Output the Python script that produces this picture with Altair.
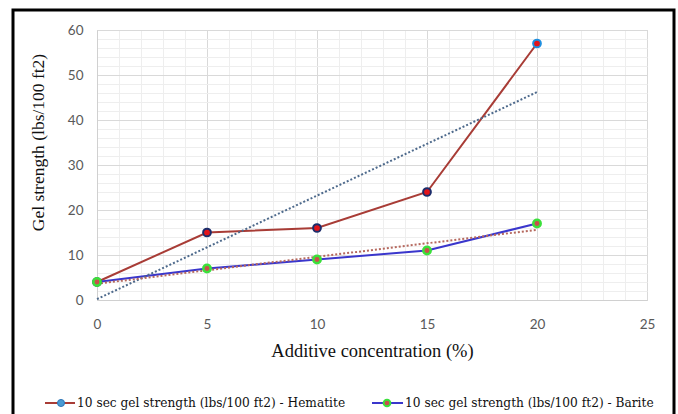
import altair as alt
import pandas as pd

# Gel strength readings vs additive concentration
concentration = [0, 5, 10, 15, 20]
hematite_gel = [4, 15, 16, 24, 57]
barite_gel = [4, 7, 9, 11, 17]
series_names = [
    "10 sec gel strength (lbs/100 ft2) - Hematite",
    "10 sec gel strength (lbs/100 ft2) - Barite",
]
x_ticks = list(range(0, 26))        # major every 5, minor every 1
y_ticks = list(range(0, 61, 2))     # major every 10, minor every 2

df = pd.DataFrame({
    "conc": concentration * 2,
    "gel": hematite_gel + barite_gel,
    "series": [series_names[0]] * len(concentration) + [series_names[1]] * len(concentration),
})

LABEL_FONT = "Lato"
SERIF = "Liberation Serif"
LEGEND_FONT = "DejaVu Serif"

x_enc = alt.X(
    "conc:Q",
    scale=alt.Scale(domain=[0, 25], nice=False),
    axis=alt.Axis(
        values=x_ticks,
        labelExpr="datum.value % 5 === 0 ? datum.label : ''",
        gridColor={"condition": {"test": "datum.value % 5 === 0", "value": "#d9d9d9"}, "value": "#eeeeee"},
        grid=True,
        ticks=False,
        domainColor="#d0d0d0",
        labelFont=LABEL_FONT, labelFontSize=13.5, labelColor="#595959",
        labelPadding=17, labelFlush=False,
        title="Additive concentration (%)",
        titleFont=SERIF, titleFontSize=18.5, titleFontWeight="normal", titleColor="#111111",
        titleY=50, titleBaseline="middle",
    ),
)
y_enc = alt.Y(
    "gel:Q",
    scale=alt.Scale(domain=[0, 60], nice=False),
    axis=alt.Axis(
        values=y_ticks,
        labelExpr="datum.value % 10 === 0 ? datum.label : ''",
        gridColor={"condition": {"test": "datum.value % 10 === 0", "value": "#d9d9d9"}, "value": "#eeeeee"},
        grid=True,
        ticks=False,
        domainColor="#d0d0d0",
        labelFont=LABEL_FONT, labelFontSize=13.5, labelColor="#595959",
        labelPadding=14,
        title="Gel strength (lbs/100 ft2)",
        titleFont=SERIF, titleFontSize=17.5, titleFontWeight="normal", titleColor="#111111",
        titleX=-59, titleY=112, titleAngle=270, titleBaseline="middle", titleAlign="center",
    ),
)

base = alt.Chart(df).encode(x=x_enc, y=y_enc)
hem = base.transform_filter(alt.datum.series == series_names[0])
bar = base.transform_filter(alt.datum.series == series_names[1])

hem_line = hem.mark_line(color="#a83c36", strokeWidth=2)
bar_line = bar.mark_line(color="#3a36cc", strokeWidth=2)

hem_trend = hem.transform_regression("conc", "gel").mark_line(
    color="#4e6a8c", strokeWidth=2, strokeDash=[2, 2])
bar_trend = bar.transform_regression("conc", "gel").mark_line(
    color="#b5685e", strokeWidth=2, strokeDash=[2, 2])

hem_pts = hem.mark_circle(size=60, fill="#e3141a", strokeWidth=2, opacity=1).encode(
    stroke=alt.condition(alt.datum.conc == 20, alt.value("#1e8fe0"), alt.value("#1c2d6b"))
)
bar_pts = bar.mark_circle(size=55, fill="#c8504c", stroke="#3be03b", strokeWidth=2.5, opacity=1)

# Legend drawn below the plot
one = alt.Data(values=[{"k": 0}])
leg_y = 373
leg_hem = alt.layer(
    alt.Chart(one).mark_rule(color="#a83c36", strokeWidth=2).encode(
        x=alt.value(-52), x2=alt.value(-22), y=alt.value(leg_y)),
    alt.Chart(one).mark_circle(size=50, fill="#4a9bd4", stroke="#2e75b6", strokeWidth=1, opacity=1).encode(
        x=alt.value(-36), y=alt.value(leg_y)),
    alt.Chart(one).mark_text(align="left", baseline="middle", font=LEGEND_FONT, fontSize=12.2, color="#111111").encode(
        x=alt.value(-20), y=alt.value(leg_y), text=alt.value(series_names[0])),
)
leg_bar = alt.layer(
    alt.Chart(one).mark_rule(color="#3a36cc", strokeWidth=2).encode(
        x=alt.value(275), x2=alt.value(306), y=alt.value(leg_y)),
    alt.Chart(one).mark_circle(size=45, fill="#c8504c", stroke="#3be03b", strokeWidth=2, opacity=1).encode(
        x=alt.value(290), y=alt.value(leg_y)),
    alt.Chart(one).mark_text(align="left", baseline="middle", font=LEGEND_FONT, fontSize=12.2, color="#111111").encode(
        x=alt.value(308), y=alt.value(leg_y), text=alt.value(series_names[1])),
)

# Outer black frame
frame = alt.Chart(one).mark_rect(fill="transparent", stroke="#000000", strokeWidth=3).encode(
    x=alt.value(-84), x2=alt.value(577), y=alt.value(-20), y2=alt.value(420))

chart = alt.layer(
    hem_line, bar_line, hem_trend, bar_trend, hem_pts, bar_pts, leg_hem, leg_bar, frame
).properties(
    width=550, height=270,
    autosize=alt.AutoSizeParams(type="none"),
    padding={"left": 97, "top": 30, "right": 31, "bottom": 114},
    background="white",
).configure_view(stroke="#d0d0d0")

chart.save("out.html", embed_options={"renderer": "svg", "actions": False})
